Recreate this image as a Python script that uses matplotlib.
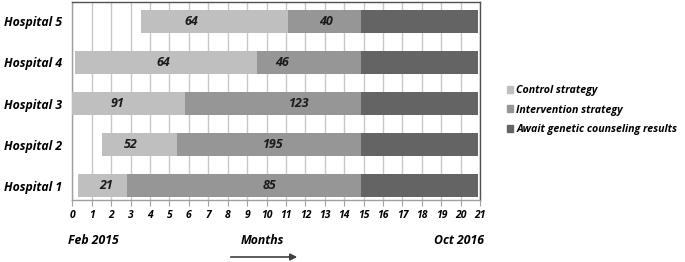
import matplotlib.pyplot as plt
from matplotlib.patches import Patch, FancyArrowPatch

hospitals = ["Hospital 1", "Hospital 2", "Hospital 3", "Hospital 4", "Hospital 5"]
start = [0.28, 1.54, 0.0, 0.15, 3.53]
control_months = [2.55, 3.84, 5.81, 9.36, 7.60]
intervention_months = [12.01, 9.46, 9.03, 5.33, 3.71]
await_months = [6.03, 6.03, 6.03, 6.03, 6.03]
control_n = [21, 52, 91, 64, 64]
intervention_n = [85, 195, 123, 46, 40]
month_ticks = list(range(0, 22))

# label placement (months), layout only
ctrl_label_x = [1.73, 3.02, 2.30, 4.67, 6.15]
int_label_x = [10.16, 10.32, 11.70, 10.78, 13.05]

c_ctrl, c_int, c_await = "#bfbfbf", "#969696", "#646464"
FONT = "Open Sans"
plt.rcParams['font.family'] = [FONT, 'DejaVu Sans']

fig = plt.figure(figsize=(6.85, 2.62), dpi=100)
ax = fig.add_axes([0.1055, 0.2366, 0.5955, 0.7554])

y = list(range(len(hospitals)))
h = 0.56
ax.barh(y, control_months, left=start, height=h, color=c_ctrl, zorder=3)
left2 = [s + c for s, c in zip(start, control_months)]
ax.barh(y, intervention_months, left=left2, height=h, color=c_int, zorder=3)
left3 = [l + i for l, i in zip(left2, intervention_months)]
ax.barh(y, await_months, left=left3, height=h, color=c_await, zorder=3)

for i in y:
    ax.text(ctrl_label_x[i], i, str(control_n[i]), ha='center', va='center',
            fontsize=9, fontweight='bold', fontstyle='italic', color='#1a1a1a', zorder=4)
    ax.text(int_label_x[i], i, str(intervention_n[i]), ha='center', va='center',
            fontsize=9, fontweight='bold', fontstyle='italic', color='#1a1a1a', zorder=4)

ax.set_xlim(0, 21)
ax.set_ylim(-0.35, 4.47)
ax.set_xticks(month_ticks)
ax.set_xticklabels([str(m) for m in month_ticks], fontsize=7.5,
                   fontweight='bold', fontstyle='italic')
ax.set_yticks(y)
ax.set_yticklabels(hospitals, fontsize=8.8, fontweight='bold', fontstyle='italic')
ax.tick_params(axis='y', length=0, pad=7)
ax.tick_params(axis='x', length=4, color='#a0a0a0', pad=3, direction='out')
ax.grid(axis='x', color='#c8c8c8', lw=1, zorder=0)
ax.grid(axis='y', visible=False)
for s in ['top', 'right']:
    ax.spines[s].set_color('#505050')
    ax.spines[s].set_linewidth(1)
for s in ['left', 'bottom']:
    ax.spines[s].set_color('#a0a0a0')
    ax.spines[s].set_linewidth(1)

kw = dict(fontsize=8.8, fontweight='bold', fontstyle='italic', va='center')
fig.text(68 / 685, 1 - 240 / 262, "Feb 2015", ha='left', **kw)
fig.text(262 / 685, 1 - 240 / 262, "Months", ha='center', **kw)
fig.text(484 / 685, 1 - 240 / 262, "Oct 2016", ha='right', **kw)
fig.patches.append(FancyArrowPatch(
    (228 / 685, 1 - 257 / 262), (300 / 685, 1 - 257 / 262), transform=fig.transFigure,
    arrowstyle='-|>', mutation_scale=10, color='#404040', lw=1.2))

handles = [Patch(color=c_ctrl), Patch(color=c_int), Patch(color=c_await)]
labels = ["Control strategy", "Intervention strategy", "Await genetic counseling results"]
leg = fig.legend(handles, labels, loc='center left', bbox_to_anchor=(497 / 685, 1 - 110 / 262),
                 frameon=False, handlelength=0.6, handleheight=0.6, handletextpad=0.3,
                 labelspacing=0.8, prop={'size': 7.7, 'weight': 'bold', 'style': 'italic', 'family': FONT})

fig.savefig("out.png", dpi=100)
